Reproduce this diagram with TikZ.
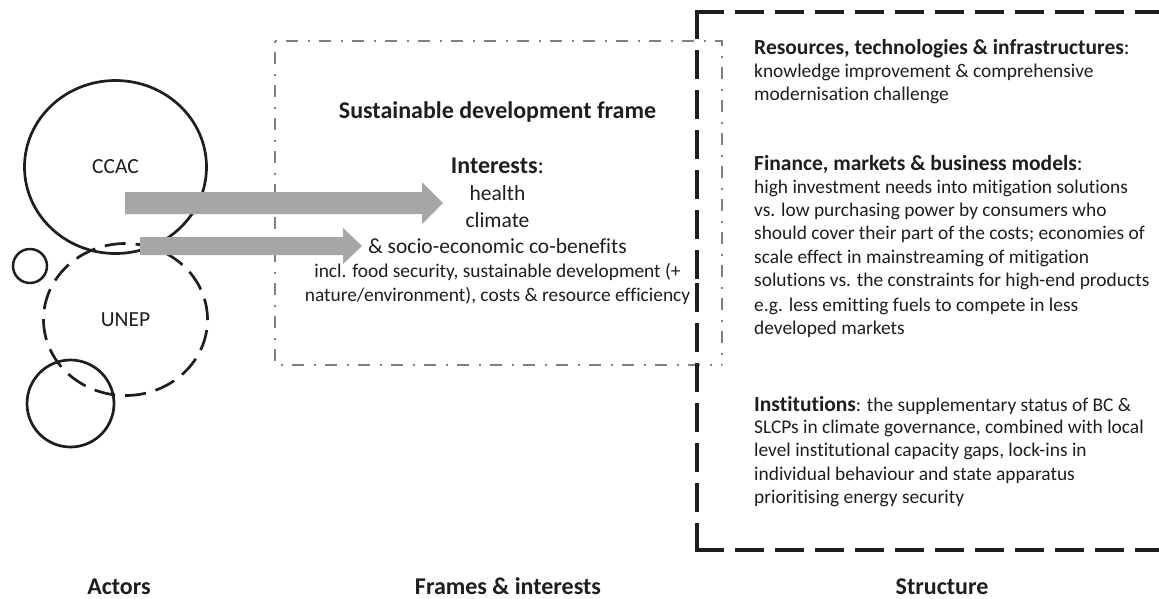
\documentclass[tikz,border=0pt]{standalone}
\usepackage{fontspec}
\setmainfont{Carlito}[Ligatures=CommonOff]
\usetikzlibrary{shapes.geometric}
\definecolor{txt}{HTML}{1E1E1E}
\definecolor{arrowgray}{HTML}{A6A6A6}
\definecolor{framegray}{HTML}{7F7F7F}
\newcommand{\fzS}{\fontsize{19.4}{23}\selectfont}
\newcommand{\fzM}{\fontsize{21.5}{25}\selectfont}
\newcommand{\fzL}{\fontsize{24}{28}\selectfont}
\begin{document}
\begin{tikzpicture}[x=1pt,y=-1pt,
  rline/.style={anchor=base west, inner sep=0pt, text=txt, font=\fzS},
  mline/.style={anchor=base, inner sep=0pt, text=txt},
  caption/.style={anchor=base, inner sep=0pt, text=txt, font=\fzL\bfseries},
  actor/.style={draw=txt, line width=2.7pt, inner sep=0pt, text=txt, font=\fzM},
  fatarrow/.style={fill=arrowgray, draw=none},
  framebox/.style={draw=framegray, line width=2.2pt, line cap=butt, dash pattern=on 2pt off 9pt on 12pt off 10pt},
  structbox/.style={draw=txt, line width=3.5pt, line cap=rect, dash pattern=on 25pt off 15pt}]
\clip (0,0) rectangle (1159,598);
\fill[white] (0,0) rectangle (1159,598);

% frames box (dash-dot)
\coordinate (fTL) at (275,41);
\coordinate (fTR) at (722,41);
\coordinate (fBL) at (275,365);
\coordinate (fBR) at (722,365);
\draw[framebox] (fTL) -- (fTR) -- (fBR);
\draw[framebox] (fTL) -- (fBL) -- (fBR);

% structure box (thick dashed)
\coordinate (sTL) at (697,12);
\coordinate (sTR) at (1185,12);
\coordinate (sBL) at (697,550);
\coordinate (sBR) at (1185,550);
\coordinate (sML) at (697,281);
\draw[structbox] (sTL) -- (sTR);
\draw[structbox] (sTL) -- (sML);
\draw[structbox] (sBL) -- (sML);
\draw[structbox] (sBL) -- (sBR);

% actors
\node[actor, ellipse, minimum width=182pt, minimum height=173pt] (ccac) at (115.5,167) {CCAC};
\node[actor, ellipse, dash pattern=on 21pt off 10pt, minimum width=164pt, minimum height=152pt] (unep) at (125.5,319.5) {UNEP};
\node[actor, circle, line width=2.5pt, minimum size=34pt] (small) at (30,266) {};
\node[actor, circle, minimum size=87pt] (lower) at (70.5,403.5) {};

% arrows
\coordinate (a1from) at (125,203);
\coordinate (a1to) at (443,203);
\coordinate (a2from) at (140,246);
\coordinate (a2to) at (362,246);
\fill[fatarrow] (a1from) ++(0,-11) -- ++(297,0) -- ++(0,-10) -- (a1to) -- ++(-21,21) -- ++(0,-10) -- ++(-297,0) -- cycle;
\fill[fatarrow] (a2from) ++(0,-9) -- ++(203,0) -- ++(0,-9) -- (a2to) -- ++(-19,18) -- ++(0,-9) -- ++(-203,0) -- cycle;

% frames & interests text
\node[mline, font=\fzL] (title) at (497.5,118) {\textbf{Sustainable development frame}};
\node[mline, font=\fzL] (interests) at (497.5,173) {\textbf{Interests}:};
\node[mline, font=\fzM] (health) at (497.5,200) {health};
\node[mline, font=\fzM] (climate) at (497.5,227) {climate};
\node[mline, font=\fzM] (socio) at (497.5,253) {\& socio-economic co-benefits};
\node[mline, font=\fzS] (incl) at (497.5,277) {incl. food security, sustainable development (+};
\node[mline, font=\fzS] (nature) at (497.5,301) {nature/environment), costs \& resource efficiency};

% structure text
\node[rline] (res1) at (754,54) {{\fzM\textbf{Resources, technologies \& infrastructures}:}};
\node[rline] (res2) at (754,77.5) {knowledge improvement \& comprehensive};
\node[rline] (res3) at (754,100.5) {modernisation challenge};
\node[rline] (fin1) at (754,170) {{\fzM\textbf{Finance, markets \& business models}:}};
\node[rline] (fin2) at (754,193.5) {high investment needs into mitigation solutions};
\node[rline] (fin3) at (754,216.5) {vs. low purchasing power by consumers who};
\node[rline] (fin4) at (754,239.5) {should cover their part of the costs; economies of};
\node[rline] (fin5) at (754,263) {scale effect in mainstreaming of mitigation};
\node[rline] (fin6) at (754,286.5) {solutions vs. the constraints for high-end products};
\node[rline] (fin7) at (754,311.5) {e.g. less emitting fuels to compete in less};
\node[rline] (fin8) at (754,334.5) {developed markets};
\node[rline] (ins1) at (754,411) {{\fzM\textbf{Institutions}}: the supplementary status of BC \&};
\node[rline] (ins2) at (754,433.5) {SLCPs in climate governance, combined with local};
\node[rline] (ins3) at (754,456.5) {level institutional capacity gaps, lock-ins in};
\node[rline] (ins4) at (754,480.5) {individual behaviour and state apparatus};
\node[rline] (ins5) at (754,503.5) {prioritising energy security};

% column captions
\node[caption] (actors) at (119,594) {Actors};
\node[caption] (frames) at (508,594) {Frames \& interests};
\node[caption] (structure) at (942,594) {Structure};
\end{tikzpicture}
\end{document}
